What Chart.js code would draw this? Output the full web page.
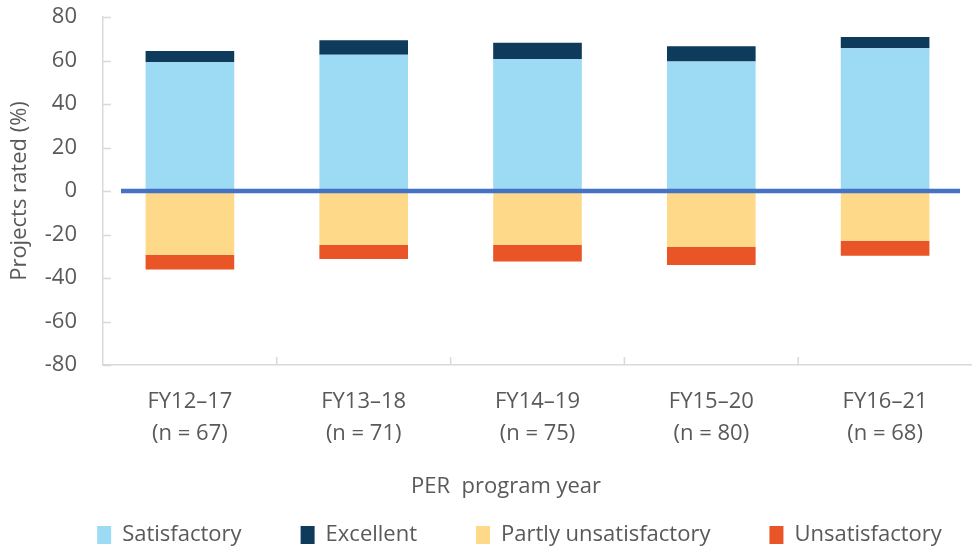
<!DOCTYPE html>
<html>
<head>
<meta charset="utf-8">
<script src="https://cdn.jsdelivr.net/npm/chart.js@4.4.1/dist/chart.umd.min.js"></script>
<style>
  html, body { margin: 0; padding: 0; background: #fff; }
  #wrap { width: 972px; height: 554px; }
</style>
</head>
<body>
<div id="wrap"><canvas id="barChart"></canvas></div>
<script>
'use strict'

// values (percent of projects rated)
var periods = [['FY12–17', '(n = 67)'], ['FY13–18', '(n = 71)'], ['FY14–19', '(n = 75)'], ['FY15–20', '(n = 80)'], ['FY16–21', '(n = 68)']];
var satisfactory = [59.2, 62.7, 60.7, 59.5, 65.6];
var excellent = [5.2, 6.6, 7.5, 7.0, 5.2];
var partlyUnsat = [-29.4, -24.8, -24.8, -25.7, -22.9];
var unsatisfactory = [-6.7, -6.5, -7.6, -8.3, -6.9];
var yTicks = [-80, -60, -40, -20, 0, 20, 40, 60, 80];

var grey = '#595959';
var axisGrey = '#D9D9D9';
var font = 'Open Sans';
var fontSize = 22;
var legendGap = 59;

// legend: wide gaps between items but a short box
var excelAxes = {
  id: 'excelAxes',
  beforeLayout: function(chart) {
    var lg = chart.legend;
    if (lg && !lg._shortFit) {
      var fit = lg.fit;
      lg.fit = function() {
        fit.call(this);
        this.height = 46;
      };
      lg._shortFit = true;
    }
  },
  afterLayout: function(chart) {
    var lg = chart.legend;
    lg.left += 29;
    lg.right += 29;
    lg.top = chart.height - 30 - legendGap;
  },
  afterDatasetsDraw: function(chart) {
    var ctx = chart.ctx, area = chart.chartArea;
    var x = chart.scales.x, y = chart.scales.y;
    ctx.save();
    ctx.strokeStyle = axisGrey;
    ctx.lineWidth = 1.5;
    yTicks.forEach(function(v) {
      var py = Math.round(y.getPixelForValue(v)) + 0.5;
      ctx.beginPath();
      ctx.moveTo(area.left, py);
      ctx.lineTo(area.left + 8, py);
      ctx.stroke();
    });
    for (var i = 0; i < periods.length - 1; i++) {
      var px = (x.getPixelForValue(i) + x.getPixelForValue(i + 1)) / 2;
      ctx.beginPath();
      ctx.moveTo(px, area.bottom);
      ctx.lineTo(px, area.bottom - 8);
      ctx.stroke();
    }
    var zy = y.getPixelForValue(0);
    ctx.strokeStyle = '#4472C4';
    ctx.lineWidth = 4.5;
    ctx.beginPath();
    ctx.moveTo(area.left + 18, zy);
    ctx.lineTo(area.right - 12, zy);
    ctx.stroke();
    ctx.restore();
  }
};

var ctx = document.getElementById('barChart').getContext('2d');
var barChart = new Chart(ctx, {
  type: 'bar',
  data: {
    labels: periods,
    datasets: [
      { label: 'Satisfactory', data: satisfactory, backgroundColor: '#9DDBF5' },
      { label: 'Excellent', data: excellent, backgroundColor: '#0E3A5C' },
      { label: 'Partly unsatisfactory', data: partlyUnsat, backgroundColor: '#FFD98A' },
      { label: 'Unsatisfactory', data: unsatisfactory, backgroundColor: '#E95527' }
    ]
  },
  plugins: [excelAxes],
  options: {
    responsive: true,
    maintainAspectRatio: false,
    animation: false,
    datasets: {
      bar: { barPercentage: 0.51, categoryPercentage: 1, borderWidth: 0 }
    },
    layout: { padding: { top: 0, left: 4, right: -5, bottom: 2 } },
    scales: {
      x: {
        stacked: true,
        grid: { drawOnChartArea: false, drawTicks: false },
        border: { color: axisGrey, width: 1.5 },
        ticks: { color: grey, font: { family: font, size: fontSize, lineHeight: 1.45 }, padding: 21, maxRotation: 0 },
        // trailing no-break spaces pull the centred title left, as in the original
        title: { display: true, text: 'PER  program year' + '\u00a0'.repeat(11), color: grey, font: { family: font, size: fontSize }, padding: { top: 24, bottom: 6 } },
        afterFit: function(s) {
          s.height = 141;
          s.paddingLeft = 0;
          s.paddingRight = 0;
        }
      },
      y: {
        stacked: true,
        min: -80,
        max: 80,
        grid: { drawOnChartArea: false, drawTicks: false },
        border: { color: axisGrey, width: 1.5 },
        ticks: { stepSize: 20, color: grey, font: { family: font, size: fontSize }, padding: 26 },
        title: { display: true, text: 'Projects rated (%)', color: grey, font: { family: font, size: fontSize }, padding: { top: 3, bottom: 4 } },
        afterFit: function(s) {
          s.width = 99;
          s.paddingTop = 17;
          s.paddingBottom = 14;
        }
      }
    },
    plugins: {
      legend: {
        position: 'bottom',
        labels: { color: grey, font: { family: font, size: fontSize }, boxWidth: 14, boxHeight: 18, padding: legendGap }
      },
      tooltip: { enabled: false }
    }
  }
});
</script>
</body>
</html>
